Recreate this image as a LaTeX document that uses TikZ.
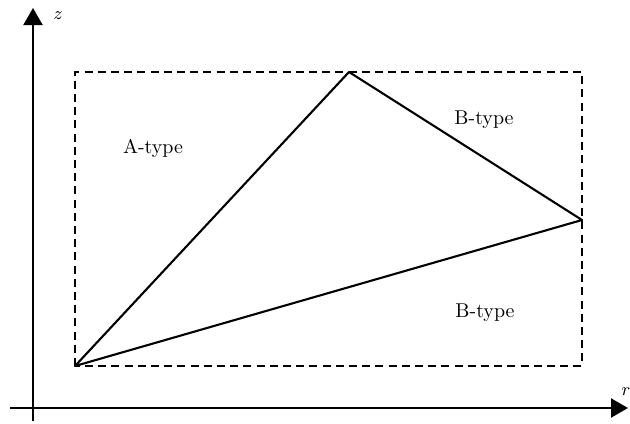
\documentclass[tikz,border=0pt]{standalone}
\usepackage{amsmath,amssymb}
\usepackage{tikz}
\usetikzlibrary{arrows.meta,positioning}
\tikzset{
  axis/.style={-{Triangle[length=8.5pt,width=9.5pt]}, line width=1pt, draw=black},
  frame/.style={dashed, dash pattern=on 4pt off 2.6pt, line width=0.85pt, draw=black},
  edge/.style={line width=1.05pt, draw=black, line join=round},
  region/.style={font=\normalsize, inner sep=0pt},
  axislabel/.style={font=\small\itshape, inner sep=0pt}
}

\begin{document}
\begin{tikzpicture}[x=0.5pt, y=-0.5pt]
    \useasboundingbox (0,0) rectangle (630,423);
    % axes
    \coordinate (zfoot) at (33,421);
    \coordinate (ztip) at (33,8);
    \coordinate (rfoot) at (10,408);
    \coordinate (rtip) at (628,408);
    \draw[axis] (zfoot) -- (ztip);
    \draw[axis] (rfoot) -- (rtip);
    \node[axislabel] (zlab) at (58,16) {$z$};
    \node[axislabel] (rlab) at (626,392) {$r$};
    % dashed frame
    \coordinate (sw) at (75,366);
    \coordinate (nw) at (75,72);
    \coordinate (ne) at (582,72);
    \coordinate (se) at (582,366);
    \draw[frame] (sw) -- (nw) -- (ne) -- (se) -- cycle;
    % triangle
    \coordinate (apex) at (349,72);
    \coordinate (east) at (582,220);
    \draw[edge] (sw) -- (apex) -- (east) -- cycle;
    \node[region] (atype) at (153,148) {A-type};
    \node[region] (btop) at (484,120) {B-type};
    \node[region] (bbot) at (485,313) {B-type};
  \end{tikzpicture}
\end{document}
